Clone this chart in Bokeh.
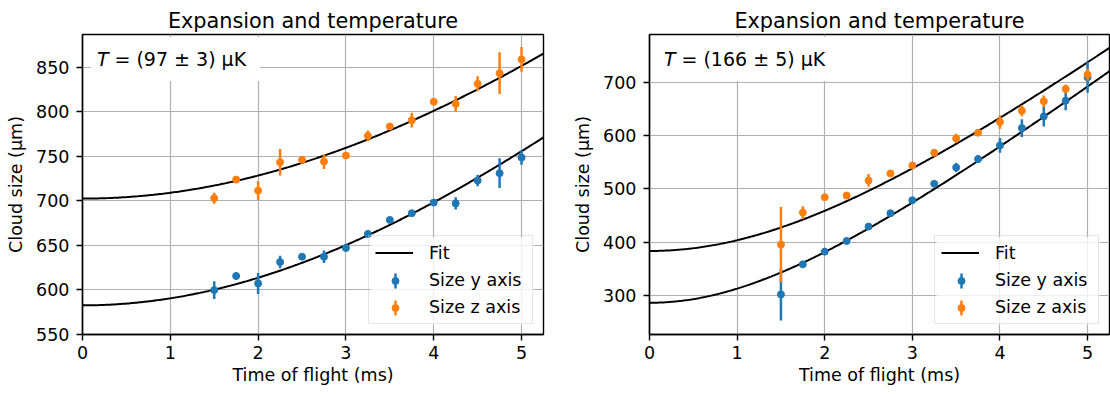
import numpy as np
from bokeh.plotting import figure
from bokeh.layouts import row
from bokeh.models import ColumnDataSource, Legend, LegendItem, Label, FixedTicker, Range1d
from bokeh.embed import file_html
from bokeh.resources import INLINE

TITLE = "Expansion and temperature"
X_LABEL = "Time of flight (ms)"
Y_LABEL = "Cloud size (µm)"
X_TICKS = [0, 1, 2, 3, 4, 5]

# time of flight (ms)
tof = [1.5, 1.75, 2.0, 2.25, 2.5, 2.75, 3.0, 3.25, 3.5, 3.75, 4.0, 4.25, 4.5, 4.75, 5.0]

# left panel (µm)
left_size_y = [599.5, 615.3, 607.0, 631.0, 637.0, 637.0, 646.8, 662.6, 678.4, 685.9, 697.9, 697.0, 722.7, 731.0, 748.6]
left_err_y = [10, 4.3, 11.8, 7, 2, 7, 2, 4, 2, 2, 2, 7, 6.4, 16.7, 8]
left_size_z = [702.8, 723.8, 711.4, 743.3, 746.0, 744.0, 750.8, 773.0, 783.5, 790.6, 811.3, 809.0, 831.5, 843.5, 859.0]
left_err_z = [6.2, 3, 10.5, 15, 2, 8.4, 2, 6, 2, 8.3, 2, 8.8, 8.4, 23.5, 14]
left_sigma0_y, left_sigma0_z = 582.3, 702.4
left_T, left_dT = 97, 3
left_yticks = [550, 600, 650, 700, 750, 800, 850]

# right panel (µm)
right_size_y = [301.9, 358.3, 382.1, 402.2, 429.2, 454.2, 478.7, 509.4, 540.1, 555.8, 581.5, 614.1, 636.0, 665.5, 709.4]
right_err_y = [49, 3, 3, 3, 2, 2, 3, 3, 8.5, 7.5, 13.8, 16.6, 18.8, 18.2, 29]
right_size_z = [395.3, 455.5, 484.3, 487.5, 515.7, 528.8, 543.9, 567.7, 594.7, 605.3, 625.4, 646.7, 664.3, 687.5, 714.4]
right_err_z = [70.5, 12, 3, 3, 12, 3, 3, 3, 8.8, 3, 12.5, 10.3, 11, 8.2, 11]
right_sigma0_y, right_sigma0_z = 286.2, 383.4
right_T, right_dT = 166, 5
right_yticks = [300, 400, 500, 600, 700]

BLUE = "#1f77b4"
ORANGE = "#ff7f0e"
FONT = "DejaVu Sans"

# figure / legend layout (pixels)
FIG_W, FIG_H = 555, 394
BORDER_TOP, BORDER_BOTTOM = 34, 60
FRAME_H = FIG_H - BORDER_TOP - BORDER_BOTTOM
LEG_MARGIN, LEG_PAD, LEG_GLYPH_W, LEG_ROW_H = 10, 6, 38, 21
LEG_STANDOFF, LEG_LABEL_W, LEG_SPACING = 16, 97, 6
LEG_ROWS = 3
LEG_W = 2 * LEG_PAD + LEG_GLYPH_W + LEG_STANDOFF + LEG_LABEL_W
LEG_H = 2 * LEG_PAD + LEG_ROWS * LEG_ROW_H + (LEG_ROWS - 1) * LEG_SPACING
ERR_KEY_LEN = 15
MARKER_SIZE = 7

# ballistic expansion fit: sigma(t) = sqrt(sigma0^2 + kB T / m * t^2), Rb-87
KB = 1.380649e-23
M_RB87 = 86.909180527 * 1.66053906660e-27


def fit_curve(t, sigma0, T_uK):
    v2 = KB * T_uK * 1e-6 / M_RB87 * 1e6  # µm^2 / ms^2
    return np.sqrt(sigma0 ** 2 + v2 * t ** 2)


def style_axis(ax):
    ax.major_label_text_font = FONT
    ax.major_label_text_font_size = "17.5px"
    ax.major_label_text_color = "black"
    ax.axis_label_text_font = FONT
    ax.axis_label_text_font_size = "17.5px"
    ax.axis_label_text_font_style = "normal"
    ax.axis_label_text_color = "black"
    ax.major_tick_in = 0
    ax.major_tick_out = 6
    ax.minor_tick_in = 0
    ax.minor_tick_out = 0
    ax.major_tick_line_width = 1.4
    ax.major_tick_line_color = "black"
    ax.axis_line_color = "black"
    ax.axis_line_width = 1.4


def panel(size_y, err_y, size_z, err_z, s0y, s0z, T, dT, yr, yticks, bl, br):
    frame_w = FIG_W - bl - br
    p = figure(width=FIG_W, height=FIG_H, output_backend="svg", toolbar_location=None,
               x_range=Range1d(0, 5.25), y_range=Range1d(*yr),
               min_border_left=bl, min_border_right=br, min_border_top=BORDER_TOP,
               min_border_bottom=BORDER_BOTTOM, title=TITLE)
    # pixel coordinate system of the frame, used for the legend background and keys
    p.extra_x_ranges = {"px": Range1d(0, frame_w)}
    p.extra_y_ranges = {"py": Range1d(0, FRAME_H)}
    p.background_fill_color = "white"
    p.border_fill_color = "white"
    p.outline_line_color = "black"
    p.outline_line_width = 1.4
    p.outline_line_alpha = 1.0
    p.title.align = "center"
    p.title.text_font = FONT
    p.title.text_font_size = "20.8px"
    p.title.text_font_style = "normal"
    p.title.text_color = "black"
    p.title.standoff = 4

    p.xaxis.axis_label = X_LABEL
    p.yaxis.axis_label = Y_LABEL
    p.xaxis.ticker = FixedTicker(ticks=X_TICKS)
    p.yaxis.ticker = FixedTicker(ticks=yticks)
    style_axis(p.xaxis[0])
    style_axis(p.yaxis[0])
    p.xaxis.major_label_standoff = 5
    p.xaxis.axis_label_standoff = 3
    p.yaxis.major_label_standoff = 7
    p.yaxis.axis_label_standoff = 7
    p.grid.grid_line_color = "#b0b0b0"
    p.grid.grid_line_width = 1.2

    t_fit = np.linspace(0, 5.25, 300)
    fit_y = p.line(t_fit, fit_curve(t_fit, s0y, T), line_color="black", line_width=2)
    p.line(t_fit, fit_curve(t_fit, s0z, T), line_color="black", line_width=2)

    series = ((size_y, err_y, BLUE, "Size y axis"), (size_z, err_z, ORANGE, "Size z axis"))
    for size, err, color, name in series:
        s = np.array(size)
        e = np.array(err)
        src = ColumnDataSource(dict(t=tof, y=s, lo=s - e, hi=s + e))
        p.segment(x0="t", y0="lo", x1="t", y1="hi", source=src,
                  line_color=color, line_width=2.5)
        p.scatter(x="t", y="y", source=src, marker="circle", size=MARKER_SIZE,
                  fill_color=color, line_color=color)

    # translucent legend background (behind the errorbar keys)
    leg_left = frame_w - LEG_MARGIN - LEG_W
    p.quad(left=[leg_left], right=[frame_w - LEG_MARGIN], bottom=[LEG_MARGIN],
           top=[LEG_MARGIN + LEG_H], x_range_name="px", y_range_name="py",
           fill_color="white", fill_alpha=0.8, line_color=None)

    items = [LegendItem(label="Fit", renderers=[fit_y])]
    key_x = leg_left + LEG_PAD + LEG_GLYPH_W / 2
    for k, (size, err, color, name) in enumerate(series):
        holder = p.text(x=[np.nan], y=[np.nan], text=[""])
        items.append(LegendItem(label=name, renderers=[holder]))
        rows_from_bottom = len(series) - 1 - k
        key_y = LEG_MARGIN + LEG_PAD + LEG_ROW_H / 2 + rows_from_bottom * (LEG_ROW_H + LEG_SPACING)
        p.segment(x0=[key_x], y0=[key_y - ERR_KEY_LEN / 2], x1=[key_x], y1=[key_y + ERR_KEY_LEN / 2],
                  x_range_name="px", y_range_name="py", line_color=color, line_width=2.5)
        p.scatter(x=[key_x], y=[key_y], x_range_name="px", y_range_name="py",
                  marker="circle", size=MARKER_SIZE, fill_color=color, line_color=color)

    legend = Legend(items=items, location="bottom_right")
    legend.label_text_font = FONT
    legend.label_text_font_size = "17.5px"
    legend.label_text_color = "black"
    legend.glyph_width = LEG_GLYPH_W
    legend.glyph_height = LEG_ROW_H
    legend.label_height = LEG_ROW_H
    legend.label_width = LEG_LABEL_W
    legend.label_standoff = LEG_STANDOFF
    legend.spacing = LEG_SPACING
    legend.padding = LEG_PAD
    legend.margin = LEG_MARGIN
    legend.border_line_color = "#cccccc"
    legend.border_line_width = 1.4
    legend.background_fill_alpha = 0.0
    p.add_layout(legend)

    rest = Label(x=8, y=275.5, x_units="screen", y_units="screen",
                 text=f"= ({T} ± {dT}) µK", text_font=FONT, text_font_size="19px",
                 text_color="black", text_baseline="middle", text_align="left",
                 background_fill_color="white",
                 padding=dict(left=24, right=14, top=11, bottom=11))
    tlab = Label(x=14.5, y=275.5, x_units="screen", y_units="screen",
                 text="T", text_font=FONT, text_font_size="19px",
                 text_font_style="italic", text_color="black",
                 text_baseline="middle", text_align="left")
    p.add_layout(rest)
    p.add_layout(tlab)
    return p


p1 = panel(left_size_y, left_err_y, left_size_z, left_err_z, left_sigma0_y, left_sigma0_z,
           left_T, left_dT, (549.5, 887.0), left_yticks, 82, 12)
p2 = panel(right_size_y, right_err_y, right_size_z, right_err_z, right_sigma0_y, right_sigma0_z,
           right_T, right_dT, (226.6, 789.7), right_yticks, 94, 1)

layout = row(p1, p2)
open("out.html", "w").write(file_html(layout, INLINE))
